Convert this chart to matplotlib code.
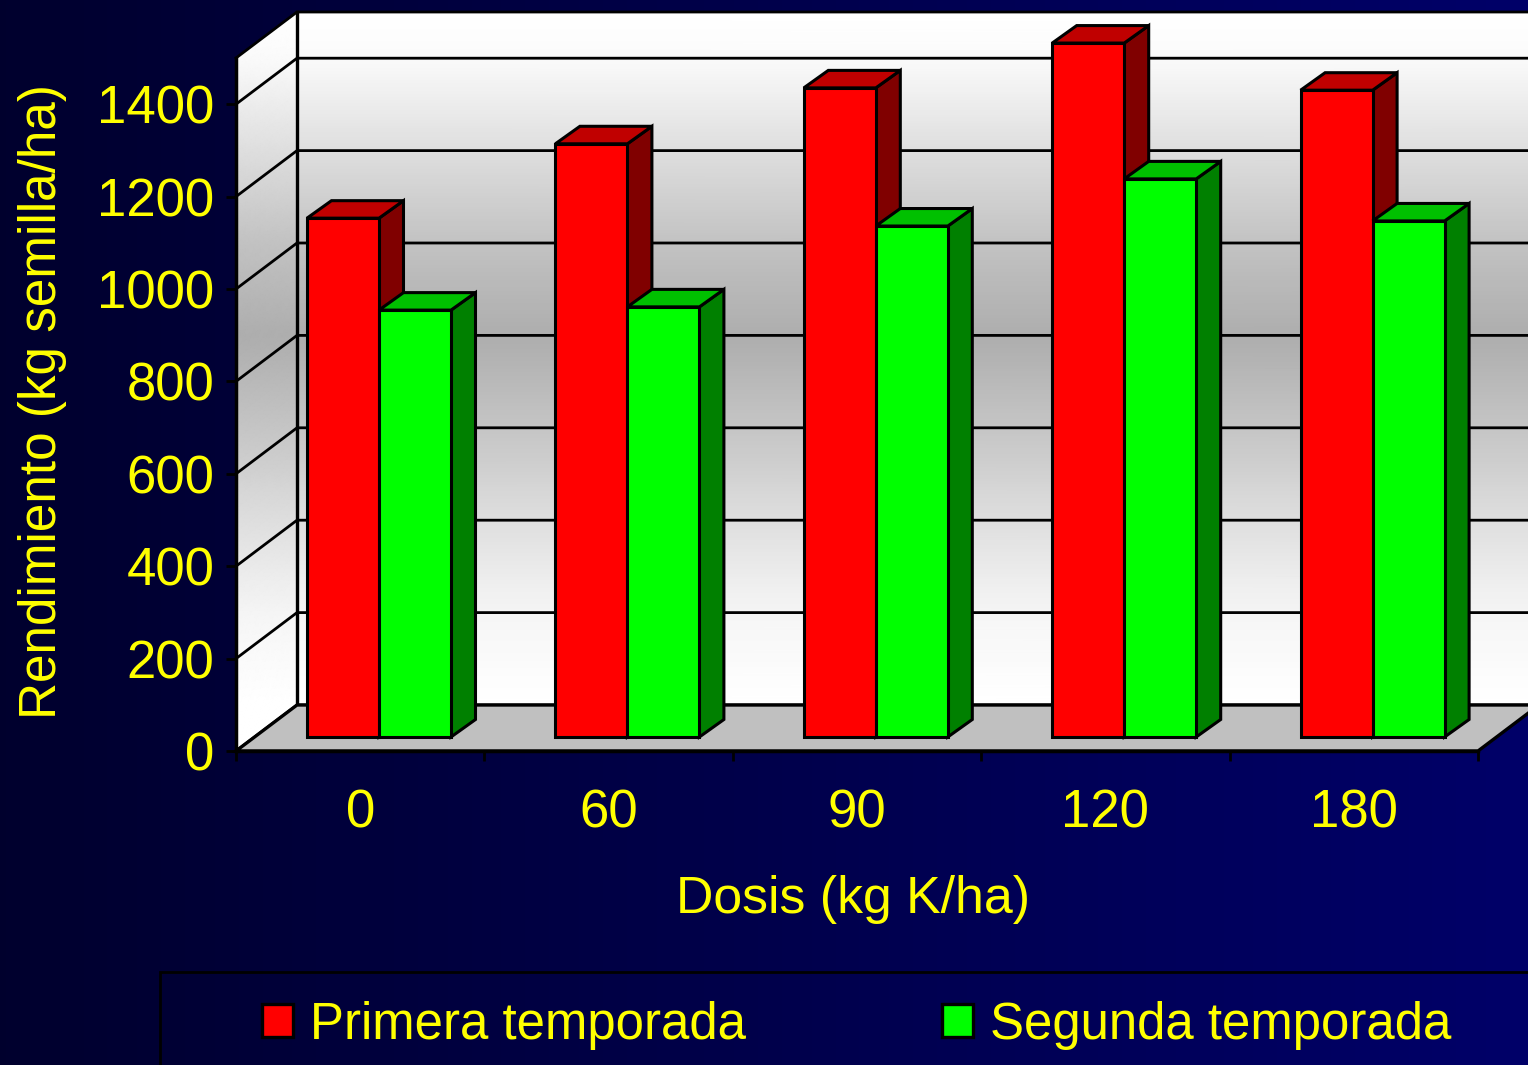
import matplotlib
matplotlib.use("Agg")
import matplotlib.pyplot as plt
from matplotlib.patches import Polygon, Rectangle
import numpy as np

doses = ["0", "60", "90", "120", "180"]
primera = [1123, 1284, 1405, 1502, 1400]
segunda = [924, 931, 1106, 1208, 1117]
y_ticks = [0, 200, 400, 600, 800, 1000, 1200, 1400]

plt.rcParams['font.family'] = ['Liberation Sans', 'DejaVu Sans']
YELLOW = '#ffff00'
FS = 37.4

W, H = 1528, 1065
fig = plt.figure(figsize=(W / 100, H / 100), dpi=100)

# background, dark on the left and navy on the right
bg = fig.add_axes([0, 0, 1, 1], zorder=-1)
bg.axis('off')
t = np.linspace(0, 1, 256)
grad = np.zeros((1, 256, 3))
grad[0, :, 2] = 0.18 + 0.23 * t
bg.imshow(grad, aspect='auto')

# front plane of the box: x 236..1478, y 751..58
ax = fig.add_axes([236 / W, 1 - 751 / H, 1242 / W, 693 / H])
ax.patch.set_visible(False)
ax.set_xlim(0, 5)
ax.set_ylim(0, 1500)
to_x = 5 / 1242
to_y = 1500 / 693

depth_x = 61 * to_x
depth_y = 46 * to_y
bar_dx = 24.5 * to_x
bar_dy = 17.5 * to_y
base = 14 * to_y
bar_w = 72 * to_x
bar_off = 71 * to_x

# shaded walls, the shade follows the height on the page
v = np.array([0, 200, 400, 600, 800, 1000, 1200, 1400, 1500], dtype=float)
shade = np.array([1.0, 0.96, 0.87, 0.77, 0.68, 0.76, 0.87, 0.98, 1.0])
vv = np.linspace(0, 1500, 61)
Y = np.column_stack([vv + depth_y, vv + depth_y])
X = np.column_stack([np.full(61, depth_x), np.full(61, 5 + depth_x)])
C = np.interp(Y - depth_y, v, shade)
ax.pcolormesh(X, Y, C, cmap='gray', vmin=0, vmax=1, shading='gouraud', clip_on=False, zorder=1)
frac = np.linspace(0, 1, 13)
X = np.outer(np.ones(61), frac * depth_x)
Y = np.outer(vv, np.ones(13)) + np.outer(np.ones(61), frac * depth_y)
C = np.interp(Y - depth_y, v, shade)
ax.pcolormesh(X, Y, C, cmap='gray', vmin=0, vmax=1, shading='gouraud', clip_on=False, zorder=1)

# gridlines on both walls
for val in y_ticks + [1500]:
    ax.plot([0, depth_x, 5 + depth_x], [val, val + depth_y, val + depth_y], color='black', lw=2,
            clip_on=False, zorder=2, solid_joinstyle='miter')
ax.plot([depth_x, depth_x], [depth_y, 1500 + depth_y], color='black', lw=2.4, clip_on=False, zorder=2)

# floor
ax.add_patch(Polygon([(0, 0), (5, 0), (5 + depth_x, depth_y), (depth_x, depth_y)], closed=True,
                     facecolor='#c0c0c0', edgecolor='black', lw=2.4, clip_on=False, zorder=3))


def draw_bar(x, h, front, top, side, z):
    y = base + h
    ax.add_patch(Polygon([(x + bar_w, base), (x + bar_w + bar_dx, base + bar_dy),
                          (x + bar_w + bar_dx, y + bar_dy), (x + bar_w, y)], closed=True,
                         facecolor=side, edgecolor='black', lw=2.2, clip_on=False, zorder=z))
    ax.add_patch(Polygon([(x, y), (x + bar_dx, y + bar_dy), (x + bar_w + bar_dx, y + bar_dy),
                          (x + bar_w, y)], closed=True,
                         facecolor=top, edgecolor='black', lw=2.2, clip_on=False, zorder=z))
    ax.bar(x, h, bar_w, bottom=base, align='edge', color=front, edgecolor='black', lw=2.2,
           clip_on=False, zorder=z)


for i in range(len(doses)):
    draw_bar(i + bar_off, primera[i], '#ff0000', '#c00000', '#800000', 4 + i * 0.1)
    draw_bar(i + bar_off + bar_w, segunda[i], '#00ff00', '#00c000', '#008000', 4.05 + i * 0.1)

# axes
for s in ['top', 'right']:
    ax.spines[s].set_visible(False)
for s in ['left', 'bottom']:
    ax.spines[s].set_linewidth(2.5)
    ax.spines[s].set_zorder(6)
ax.set_yticks(y_ticks)
ax.set_xticks(np.arange(6))
ax.set_xticklabels([])
ax.set_xticks(np.arange(5) + 0.5, doses, minor=True)
ax.tick_params(axis='y', length=7.5, width=2, pad=8, labelsize=38, labelcolor=YELLOW)
ax.tick_params(axis='x', which='major', length=7.5, width=2)
ax.tick_params(axis='x', which='minor', length=0, pad=27, labelsize=38, labelcolor=YELLOW)
ax.set_xlabel("Dosis (kg K/ha)", fontsize=FS, color=YELLOW, x=0.497, labelpad=26)
ax.set_ylabel("Rendimiento (kg semilla/ha)", fontsize=36.9, color=YELLOW)
ax.yaxis.set_label_coords((67 - 236) / 1242, (751 - 402) / 693)

# legend with its box running off the page
fig.add_artist(Rectangle((160 / W, -0.01), 1.0, 1 - 972 / H + 0.01, transform=fig.transFigure,
                         facecolor='none', edgecolor='black', lw=2))
h1 = Rectangle((0, 0), 1, 1, facecolor='#ff0000', edgecolor='black', lw=2.4)
h2 = Rectangle((0, 0), 1, 1, facecolor='#00ff00', edgecolor='black', lw=2.4)
fig.legend([h1, h2], ["Primera temporada", "Segunda temporada"], ncol=2, frameon=False,
           loc='center left', bbox_to_anchor=(262 / W, 1 - 1025 / H), borderpad=0, borderaxespad=0,
           fontsize=36.7, labelcolor=YELLOW, handlelength=0.61, handleheight=0.61,
           handletextpad=0.33, columnspacing=3.85)

fig.savefig("out.png", dpi=100)
